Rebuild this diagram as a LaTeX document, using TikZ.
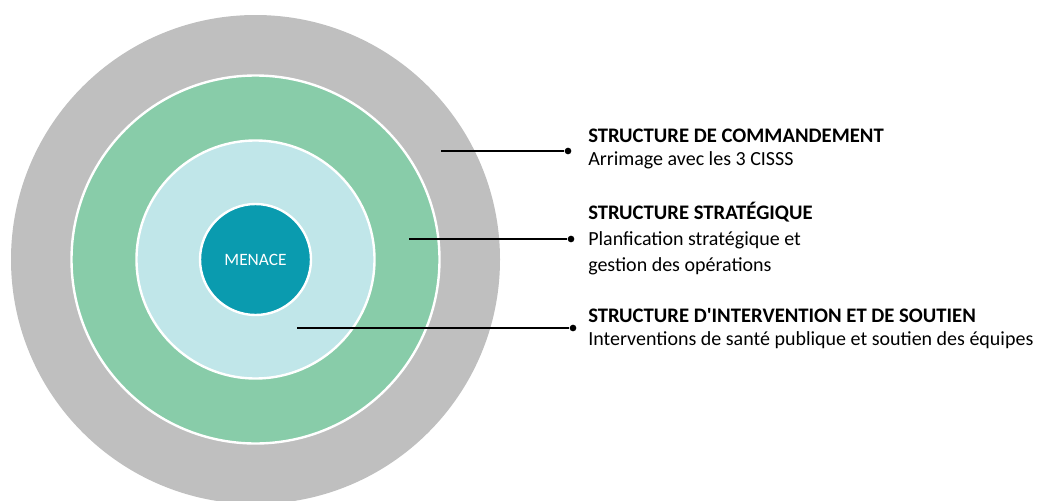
\documentclass[tikz,border=0pt]{standalone}
\usepackage{fontspec}
\setmainfont{Carlito}[Ligatures=TeXOff]
\usetikzlibrary{positioning}
\definecolor{CmdClr}{HTML}{BFBFBF}
\definecolor{StratClr}{HTML}{88CCA9}
\definecolor{InterClr}{HTML}{C0E6E9}
\definecolor{MenaceClr}{HTML}{0A9BAF}
\newcommand\legtitle[1]{{\fontsize{15.5}{17.25}\selectfont\bfseries #1}}

\begin{document}
\begin{tikzpicture}[x=0.75pt,y=-0.75pt,
  ring/.style={circle,draw=white,line width=1.8pt,inner sep=0pt},
  pin/.style={circle,fill=black,inner sep=0pt,minimum size=5pt},
  lead/.style={line width=1.1pt},
  legend/.style={anchor=base west,align=left,inner sep=0pt,
    font=\fontsize{15}{17.25}\selectfont}]
\useasboundingbox (0,0) rectangle (1046,500);

% anneaux concentriques
\node[ring,draw=none,fill=CmdClr,minimum size=366.75pt] (cmd) at (255.5,259.5) {};
\node[ring,fill=StratClr,minimum size=276pt] (strat) at (255.5,259.5) {};
\node[ring,fill=InterClr,minimum size=178.5pt] (inter) at (255.5,259.5) {};
\node[ring,fill=MenaceClr,minimum size=83.25pt,text=white,
  font=\fontsize{13}{15}\selectfont] (menace) at (255.5,259.5) {MENACE};

% renvois vers les legendes
\coordinate (c1) at (441,151);
\coordinate (c2) at (409,239);
\coordinate (c3) at (297,328);
\node[pin] (p1) at (568,151) {};
\node[pin] (p2) at (571,239) {};
\node[pin] (p3) at (573,328) {};
\draw[lead] (c1) -- (p1);
\draw[lead] (c2) -- (p2);
\draw[lead] (c3) -- (p3);

% legendes (ancrees sur la derniere ligne)
\node[legend] (t1) at (588,165.7) {\legtitle{STRUCTURE DE COMMANDEMENT}\\Arrimage avec les 3 CISSS};
\node[legend,font=\fontsize{15}{19.3}\selectfont] (t2) at (588,271) {\legtitle{STRUCTURE STRATÉGIQUE}\\Planfication stratégique et\\gestion des opérations};
\node[legend] (t3) at (588,345.7) {\legtitle{STRUCTURE D'INTERVENTION ET DE SOUTIEN}\\Interventions de santé publique et soutien des équipes};

\end{tikzpicture}
\end{document}
